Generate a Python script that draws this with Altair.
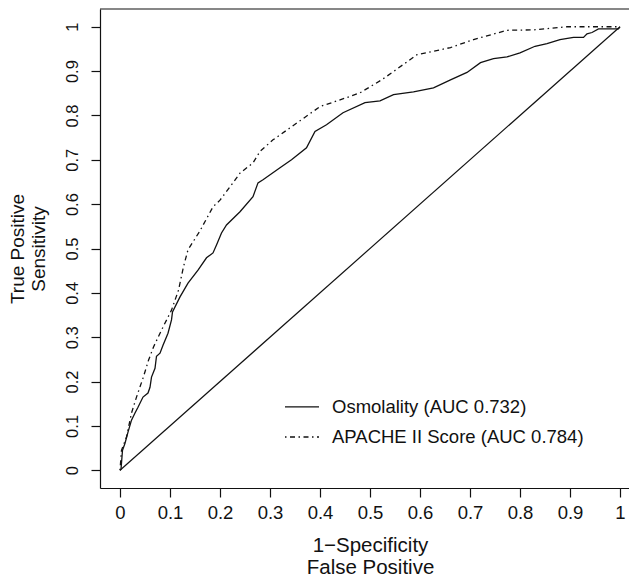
import altair as alt
import pandas as pd

# Osmolality ROC (solid)
osm_fpr = [0.0, 0.002, 0.005, 0.010, 0.016, 0.023, 0.030, 0.036, 0.046, 0.056, 0.060, 0.063,
           0.070, 0.073, 0.080, 0.086, 0.096, 0.103, 0.105, 0.120, 0.136, 0.156, 0.173, 0.186,
           0.193, 0.203, 0.213, 0.240, 0.266, 0.276, 0.286, 0.320, 0.343, 0.373, 0.390, 0.413,
           0.446, 0.490, 0.520, 0.547, 0.587, 0.627, 0.661, 0.694, 0.721, 0.747, 0.774, 0.800,
           0.830, 0.854, 0.880, 0.907, 0.927, 0.934, 0.944, 0.957, 0.997, 1.0]
osm_tpr = [0.0, 0.002, 0.045, 0.061, 0.086, 0.113, 0.129, 0.142, 0.165, 0.174, 0.187, 0.210,
           0.230, 0.257, 0.264, 0.282, 0.309, 0.339, 0.357, 0.391, 0.422, 0.451, 0.479, 0.490,
           0.508, 0.535, 0.553, 0.583, 0.617, 0.648, 0.655, 0.682, 0.700, 0.727, 0.764, 0.779,
           0.806, 0.829, 0.833, 0.847, 0.853, 0.862, 0.880, 0.897, 0.919, 0.928, 0.932, 0.941,
           0.956, 0.962, 0.971, 0.976, 0.976, 0.984, 0.987, 0.995, 0.995, 1.0]

# APACHE II ROC (dot-dash)
apa_fpr = [0.0, 0.003, 0.013, 0.023, 0.033, 0.047, 0.057, 0.067, 0.083, 0.103, 0.117, 0.127,
           0.136, 0.160, 0.186, 0.200, 0.226, 0.240, 0.266, 0.280, 0.306, 0.320, 0.360, 0.400,
           0.440, 0.480, 0.523, 0.547, 0.594, 0.661, 0.707, 0.774, 0.827, 0.894, 1.0]
apa_tpr = [0.0, 0.045, 0.075, 0.129, 0.165, 0.211, 0.248, 0.278, 0.316, 0.361, 0.406, 0.459,
           0.497, 0.540, 0.594, 0.609, 0.648, 0.670, 0.693, 0.719, 0.745, 0.756, 0.788, 0.820,
           0.835, 0.851, 0.880, 0.899, 0.937, 0.953, 0.971, 0.992, 0.993, 1.0, 1.0]

tick_values = [0, 0.1, 0.2, 0.3, 0.4, 0.5, 0.6, 0.7, 0.8, 0.9, 1]
legend_labels = ["Osmolality (AUC 0.732)", "APACHE II Score (AUC 0.784)"]
legend_y = [0.143, 0.075]

FONT = "Liberation Sans"
INK = "#111111"

osm = pd.DataFrame({"x": osm_fpr, "y": osm_tpr, "i": range(len(osm_fpr))})
apa = pd.DataFrame({"x": apa_fpr, "y": apa_tpr, "i": range(len(apa_fpr))})
diag = pd.DataFrame({"x": [0, 1], "y": [0, 1], "i": [0, 1]})

xscale = alt.Scale(domain=[-0.04, 1.04], range=[0, 540], nice=False, zero=False)
yscale = alt.Scale(domain=[-0.04, 1.04], nice=False, zero=False)

xaxis = alt.Axis(values=tick_values, format="~g", grid=False, domain=True, domainColor=INK,
                 domainWidth=1.2, tickColor=INK, tickWidth=1.2, tickSize=9,
                 labelFont=FONT, labelFontSize=18.5, labelColor=INK, labelPadding=6,
                 labelFlush=False, labelOverlap=False, labelBaseline="top",
                 title=["1\u2212Specificity", "False Positive"], titleFont=FONT,
                 titleFontSize=20.5, titleFontWeight="normal", titleColor=INK,
                 titleBaseline="top", titleX=270, titleY=47, titleLineHeight=22,
                 titleAnchor="middle", titleAlign="center")
yaxis = alt.Axis(values=tick_values, format="~g", grid=False, domain=True, domainColor=INK,
                 domainWidth=1.2, tickColor=INK, tickWidth=1.2, tickSize=9,
                 labelFont=FONT, labelFontSize=16.5, labelColor=INK, labelPadding=14,
                 labelAngle=270, labelAlign="center", labelBaseline="alphabetic",
                 labelFlush=False, labelOverlap=False,
                 title=["True Positive", "Sensitivity"], titleFont=FONT,
                 titleFontSize=19, titleFontWeight="normal", titleColor=INK,
                 titleAngle=270, titleBaseline="top", titleAlign="center",
                 titleX=-92, titleY=239.5, titleLineHeight=21)

base_x = alt.X("x:Q", scale=xscale, axis=xaxis)
base_y = alt.Y("y:Q", scale=yscale, axis=yaxis)

osm_line = alt.Chart(osm).mark_line(color=INK, strokeWidth=1.3).encode(
    x=base_x, y=base_y, order="i:Q")
apa_line = alt.Chart(apa).mark_line(color=INK, strokeWidth=1.3, strokeDash=[1.5, 3.5, 5, 3.5]).encode(
    x=alt.X("x:Q", scale=xscale), y=alt.Y("y:Q", scale=yscale), order="i:Q")
diag_line = alt.Chart(diag).mark_line(color=INK, strokeWidth=1.2).encode(
    x=alt.X("x:Q", scale=xscale), y=alt.Y("y:Q", scale=yscale), order="i:Q")

top_df = pd.DataFrame({"x": [-0.04], "x2": [1.04], "y": [1.04]})
top_rule = alt.Chart(top_df).mark_rule(color=INK, strokeWidth=1.2).encode(
    x=alt.X("x:Q", scale=xscale), x2="x2:Q", y=alt.Y("y:Q", scale=yscale))

leg_df = pd.DataFrame({"x": [0.33, 0.33], "x2": [0.398, 0.398], "y": legend_y,
                       "label": legend_labels, "tx": [0.424, 0.424]})
leg_solid = alt.Chart(leg_df.iloc[[0]]).mark_rule(color=INK, strokeWidth=1.3).encode(
    x=alt.X("x:Q", scale=xscale), x2="x2:Q", y=alt.Y("y:Q", scale=yscale))
leg_dash = alt.Chart(leg_df.iloc[[1]]).mark_rule(color=INK, strokeWidth=1.3,
                                                  strokeDash=[1.5, 3.5, 5, 3.5]).encode(
    x=alt.X("x:Q", scale=xscale), x2="x2:Q", y=alt.Y("y:Q", scale=yscale))
leg_text = alt.Chart(leg_df).mark_text(align="left", baseline="middle", font=FONT,
                                       fontSize=18.5, color=INK).encode(
    x=alt.X("tx:Q", scale=xscale), y=alt.Y("y:Q", scale=yscale), text="label:N")

chart = alt.layer(diag_line, osm_line, apa_line, top_rule, leg_solid, leg_dash, leg_text).properties(
    width=529, height=479,
    padding={"left": 92, "top": 1, "right": 0, "bottom": 92},
    autosize=alt.AutoSizeParams(type="none"),
    background="white",
).configure_view(stroke=None)

chart.save("out.html", embed_options={"renderer": "svg", "actions": False})
